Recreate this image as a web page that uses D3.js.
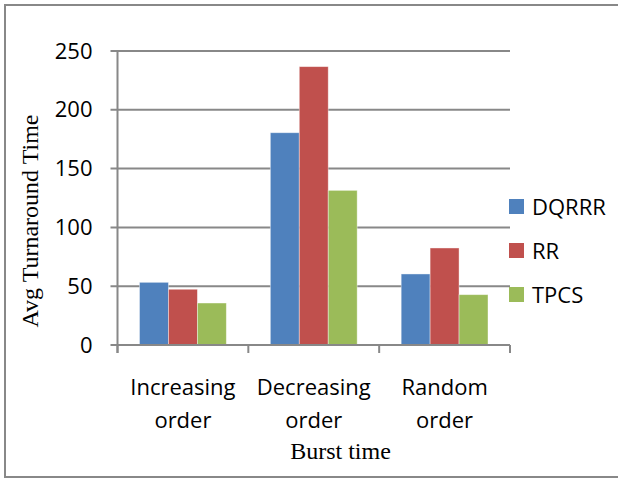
<!DOCTYPE html>
<html>
<head>
<meta charset="utf-8">
<script src="https://cdn.jsdelivr.net/npm/d3@7"></script>
<style>
body { margin: 0; background: #fff; }
svg { display: block; }
</style>
</head>
<body>
<svg id="chart"></svg>
<script>
// data
var categories = [["Increasing", "order"], ["Decreasing", "order"], ["Random", "order"]];
var seriesNames = ["DQRRR", "RR", "TPCS"];
var dqrrr = [53.3, 180.5, 60.4];
var rr = [47.4, 236.7, 82.5];
var tpcs = [35.7, 131.5, 42.8];
var yTicks = [0, 50, 100, 150, 200, 250];
var colors = ["#4F81BD", "#C0504D", "#9BBB59"];

function draw() {
var width = 618, height = 479;
var plotLeft = 117.5, plotRight = 510, plotTop = 51, plotBottom = 345;
var gridColor = "#888888";
var sans = "'Open Sans', sans-serif";
var serif = "'Liberation Serif', 'Times New Roman', serif";

var svg = d3.select("#chart").attr("width", width).attr("height", height);

// frame
svg.append("rect")
    .attr("x", 5).attr("y", 5)
    .attr("width", width + 20).attr("height", 472)
    .attr("fill", "none").attr("stroke", gridColor).attr("stroke-width", 2);

var catKeys = categories.map(function(c) { return c.join(" "); });
var x0 = d3.scaleBand().domain(catKeys).range([plotLeft, plotRight]).padding(0);
var bw = x0.bandwidth();
var x1 = d3.scaleBand().domain(seriesNames).range([22, bw - 22]).padding(0);
var y = d3.scaleLinear().domain([0, 250]).range([plotBottom, plotTop]);

var values = [dqrrr, rr, tpcs];
var rows = [];
seriesNames.forEach(function(s, i) {
    catKeys.forEach(function(c, j) {
        rows.push({ series: s, cat: c, value: values[i][j], color: colors[i] });
    });
});

// grid lines
svg.append("g").selectAll("line")
    .data(yTicks)
    .enter().append("line")
    .attr("x1", plotLeft - 7).attr("x2", plotRight)
    .attr("y1", function(d) { return y(d); })
    .attr("y2", function(d) { return y(d); })
    .attr("stroke", gridColor).attr("stroke-width", 2);

// bars
svg.append("g").selectAll("rect")
    .data(rows)
    .enter().append("rect")
    .attr("x", function(d) { return x0(d.cat) + x1(d.series); })
    .attr("y", function(d) { return y(d.value); })
    .attr("width", x1.bandwidth())
    .attr("height", function(d) { return plotBottom - y(d.value); })
    .attr("fill", function(d) { return d.color; })
    .attr("stroke", "#ffffff").attr("stroke-opacity", 0.5).attr("stroke-width", 0.8);

// y axis
var yAxis = svg.append("g")
    .attr("transform", "translate(" + plotLeft + ",0)")
    .call(d3.axisLeft(y).tickValues(yTicks).tickSize(0).tickPadding(25));
yAxis.select(".domain").remove();
yAxis.selectAll("text")
    .attr("font-family", sans).attr("font-size", 22).attr("fill", "#000");

svg.append("line")
    .attr("x1", plotLeft).attr("x2", plotLeft)
    .attr("y1", plotTop).attr("y2", plotBottom + 8)
    .attr("stroke", gridColor).attr("stroke-width", 2);

// x axis
svg.append("line")
    .attr("x1", plotLeft).attr("x2", plotRight)
    .attr("y1", plotBottom).attr("y2", plotBottom)
    .attr("stroke", gridColor).attr("stroke-width", 2);

var bounds = catKeys.map(function(c) { return x0(c); }).concat([plotRight]);
svg.append("g").selectAll("line")
    .data(bounds)
    .enter().append("line")
    .attr("x1", function(d) { return d; }).attr("x2", function(d) { return d; })
    .attr("y1", plotBottom).attr("y2", plotBottom + 8)
    .attr("stroke", gridColor).attr("stroke-width", 2);

var catLabels = svg.append("g").selectAll("text")
    .data(categories)
    .enter().append("text")
    .attr("font-family", sans).attr("font-size", 22).attr("text-anchor", "middle")
    .attr("x", function(d) { return x0(d.join(" ")) + bw / 2; })
    .attr("y", 395);
catLabels.selectAll("tspan")
    .data(function(d) { return d; })
    .enter().append("tspan")
    .attr("x", function() { return d3.select(this.parentNode).attr("x"); })
    .attr("dy", function(d, i) { return i === 0 ? 0 : 33; })
    .text(function(d) { return d; });

// axis titles
svg.append("text")
    .attr("x", 340.5).attr("y", 459)
    .attr("text-anchor", "middle")
    .attr("font-family", serif).attr("font-size", 24)
    .text("Burst time");

svg.append("text")
    .attr("transform", "translate(38,221) rotate(-90)")
    .attr("text-anchor", "middle")
    .attr("font-family", serif).attr("font-size", 24)
    .text("Avg Turnaround Time");

// legend
var legend = svg.append("g").selectAll("g")
    .data(seriesNames)
    .enter().append("g")
    .attr("transform", function(d, i) { return "translate(509," + (199 + i * 44) + ")"; });
legend.append("rect")
    .attr("width", 15).attr("height", 15)
    .attr("fill", function(d, i) { return colors[i]; });
legend.append("text")
    .attr("x", 23).attr("y", 16)
    .attr("font-family", sans).attr("font-size", 22)
    .text(function(d) { return d; });
}
draw();
</script>
</body>
</html>
